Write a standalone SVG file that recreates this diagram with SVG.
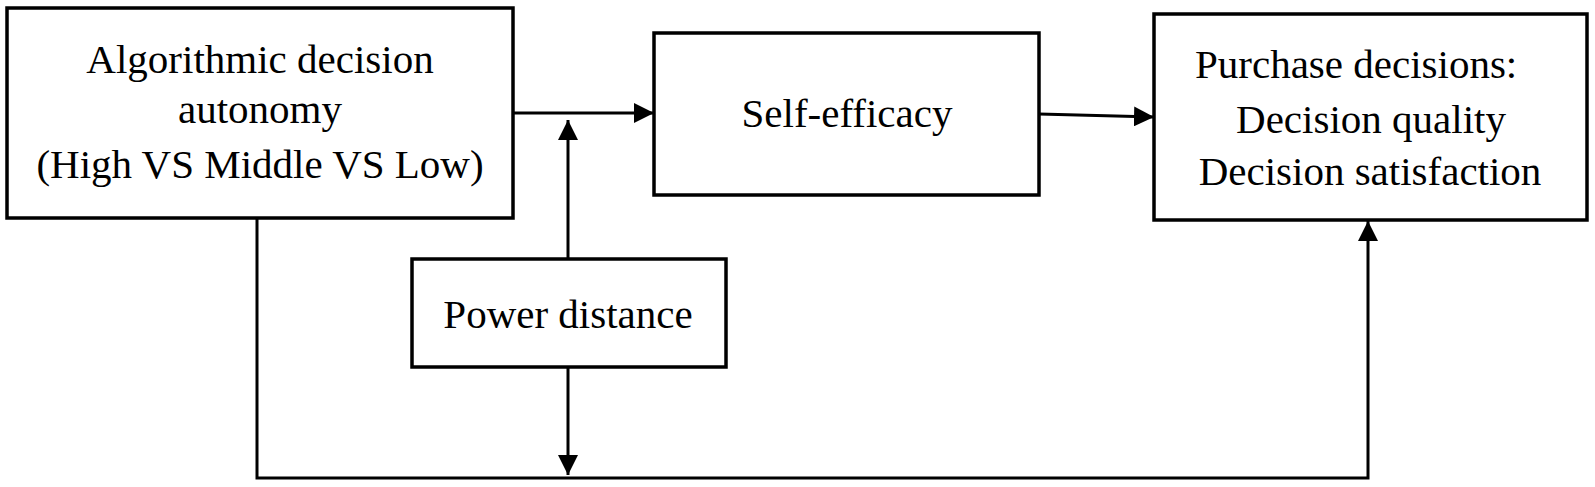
<svg xmlns="http://www.w3.org/2000/svg" width="1595" height="487" viewBox="0 0 1595 487">
<style>
.box{fill:#fff;stroke:#000;stroke-width:3.5}
.ln{fill:none;stroke:#000;stroke-width:3}
.t{font-family:'Liberation Serif','DejaVu Serif',serif;font-size:41px;fill:#000}
.c{text-anchor:middle}
</style>
<defs>
<marker id="ah" viewBox="0 0 20 20" refX="20" refY="10" markerWidth="20" markerHeight="20" markerUnits="userSpaceOnUse" orient="auto">
<path d="M0,0 L20,10 L0,20 Z" fill="#000"/>
</marker>
</defs>
<rect width="1595" height="487" fill="#fff"/>
<g id="connectors">
<line class="ln" x1="513" y1="113" x2="654" y2="113" marker-end="url(#ah)"/>
<line class="ln" x1="1039" y1="114" x2="1154" y2="117" marker-end="url(#ah)"/>
<line class="ln" x1="568" y1="259" x2="568" y2="120" marker-end="url(#ah)"/>
<line class="ln" x1="568" y1="367" x2="568" y2="475" marker-end="url(#ah)"/>
<polyline class="ln" points="257,218 257,478 1368,478 1368,221" marker-end="url(#ah)"/>
</g>
<g id="node-autonomy">
<rect class="box" x="7" y="8" width="506" height="210"/>
<g class="t" font-family="Liberation Serif, serif" font-size="41">
<text class="c" x="260" y="73">Algorithmic decision</text>
<text class="c" x="260" y="123">autonomy</text>
<text class="c" x="260" y="178">(High VS Middle VS Low)</text>
</g>
</g>
<g id="node-selfefficacy">
<rect class="box" x="654" y="33" width="385" height="162"/>
<text class="t c" x="847" y="127" font-family="Liberation Serif, serif" font-size="41">Self-efficacy</text>
</g>
<g id="node-purchase">
<rect class="box" x="1154" y="14" width="433" height="206"/>
<g class="t" font-family="Liberation Serif, serif" font-size="41">
<text x="1195" y="78">Purchase decisions:</text>
<text class="c" x="1371" y="133">Decision quality</text>
<text class="c" x="1370" y="185">Decision satisfaction</text>
</g>
</g>
<g id="node-powerdistance">
<rect class="box" x="412" y="259" width="314" height="108"/>
<text class="t c" x="568" y="328" font-family="Liberation Serif, serif" font-size="41">Power distance</text>
</g>
</svg>
